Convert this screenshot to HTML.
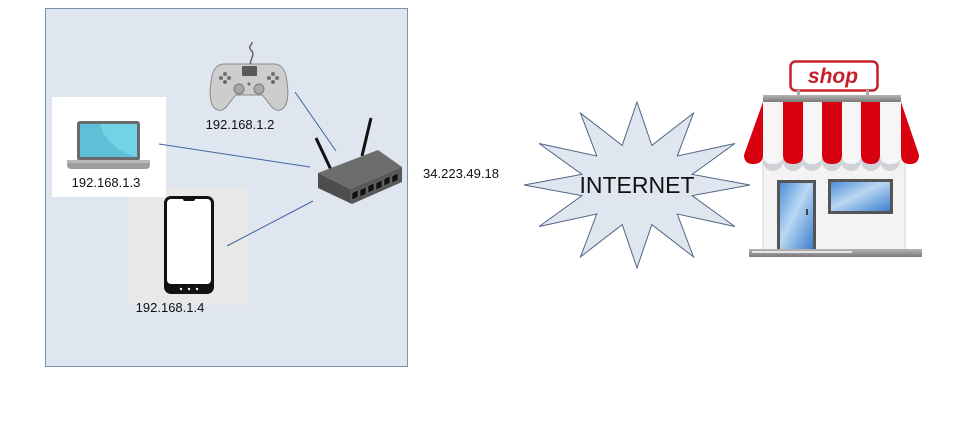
<!DOCTYPE html>
<html><head><meta charset="utf-8"><style>
html,body{margin:0;padding:0;background:#fff;}
svg{display:block;}
text{font-family:"Liberation Sans",sans-serif;}
</style></head><body>
<svg width="959" height="436" viewBox="0 0 959 436" xmlns="http://www.w3.org/2000/svg">
<defs>
<linearGradient id="glass" x1="0" y1="0" x2="1" y2="1">
<stop offset="0" stop-color="#4f8fd6"/><stop offset="0.45" stop-color="#b9d8f3"/><stop offset="1" stop-color="#3f7fcf"/>
</linearGradient>
<linearGradient id="bar" x1="0" y1="0" x2="0" y2="1">
<stop offset="0" stop-color="#b5b5b5"/><stop offset="1" stop-color="#7a7a7a"/>
</linearGradient>
</defs>
<!-- container -->
<rect x="45.5" y="8.5" width="362" height="358" fill="#dfe6f0" stroke="#7d92ad" stroke-width="1"/>
<!-- laptop box -->
<rect x="52" y="97" width="114" height="100" fill="#ffffff"/>
<!-- phone box -->
<rect x="129" y="187" width="119" height="118" fill="#e8e8e8"/>
<rect x="129" y="187" width="37" height="10" fill="#ffffff"/>
<!-- connectors -->
<g stroke="#3f66a0" stroke-width="1" fill="none">
<line x1="295" y1="92" x2="336" y2="151"/>
<line x1="159" y1="144" x2="310" y2="167"/>
<line x1="227" y1="246" x2="313" y2="201"/>
</g>
<!-- laptop -->
<rect x="77" y="121" width="63" height="40" rx="3" fill="#6b6b6b"/>
<rect x="80" y="124" width="57" height="33" fill="#72d2e6"/>
<path d="M80,124 L100,124 C104,140 118,152 137,157 L80,157 Z" fill="#5ec0d8"/>
<rect x="67" y="160" width="83" height="9" rx="4" fill="#9d9d9d"/>
<rect x="67" y="160" width="83" height="3" fill="#b8b8b8"/>
<!-- phone -->
<rect x="164" y="196" width="50" height="98" rx="7" fill="#111"/>
<rect x="167" y="199" width="44" height="85" rx="4" fill="#fff"/>
<rect x="183" y="197" width="12" height="4" rx="2" fill="#111"/>
<circle cx="181" cy="289" r="1.2" fill="#fff"/>
<circle cx="189" cy="289" r="1.2" fill="#fff"/>
<circle cx="197" cy="289" r="1.2" fill="#fff"/>
<!-- gamepad -->
<path d="M250,66 C250,58 256,55 251,50 C247,46 253,45 252,42" fill="none" stroke="#555" stroke-width="1.3"/>
<path d="M224,64 C215,64 212,72 211,82 C209,95 210,108 218,110 C226,112 230,100 236,95 L262,95 C268,100 272,112 280,110 C288,108 289,95 287,82 C286,72 283,64 274,64 Z" fill="#cdcdcd" stroke="#8a8a8a" stroke-width="1"/>
<rect x="242" y="66" width="15" height="10" rx="1" fill="#5a5a5a"/>
<g fill="#6e6e6e">
<circle cx="225" cy="74" r="2"/><circle cx="225" cy="82" r="2"/><circle cx="221" cy="78" r="2"/><circle cx="229" cy="78" r="2"/>
<circle cx="273" cy="74" r="2"/><circle cx="273" cy="82" r="2"/><circle cx="269" cy="78" r="2"/><circle cx="277" cy="78" r="2"/>
</g>
<circle cx="239" cy="89" r="5" fill="#a8a8a8" stroke="#777"/>
<circle cx="259" cy="89" r="5" fill="#a8a8a8" stroke="#777"/>
<circle cx="249" cy="84" r="1.5" fill="#666"/>
<!-- router -->
<line x1="316" y1="138" x2="333" y2="174" stroke="#111" stroke-width="3"/>
<line x1="371" y1="118" x2="362" y2="156" stroke="#111" stroke-width="3"/>
<polygon points="318,173 378,150 402,167 350,189" fill="#6d6d6d"/>
<polygon points="318,173 350,189 352,204 318,188" fill="#4d4d4d"/>
<polygon points="350,189 402,167 402,182 352,204" fill="#585858"/>
<g fill="#111" stroke="#777" stroke-width="0.5">
<polygon points="352,193 358,190 358,197 352,200"/>
<polygon points="360,190 366,187 366,194 360,197"/>
<polygon points="368,186 374,183 374,190 368,193"/>
<polygon points="376,183 382,180 382,187 376,190"/>
<polygon points="384,179 390,176 390,183 384,186"/>
<polygon points="392,176 398,173 398,180 392,183"/>
</g>
<!-- labels -->
<g font-size="13" fill="#111" text-anchor="middle">
<text x="240" y="129">192.168.1.2</text>
<text x="106" y="187">192.168.1.3</text>
<text x="170" y="312">192.168.1.4</text>
<text x="461" y="178">34.223.49.18</text>
</g>
<!-- star -->
<polygon points="637,102 651.8,145.4 693.5,113.1 677.3,156 734.9,143.5 692.1,174.4 750,185 692.1,195.6 734.9,226.5 677.3,214 693.5,256.9 651.8,224.6 637,268 622.2,224.6 580.5,256.9 596.7,214 539.1,226.5 581.9,195.6 524,185 581.9,174.4 539.1,143.5 596.7,156 580.5,113.1 622.2,145.4" fill="#dfe6f0" stroke="#4f6685" stroke-width="1"/>
<text x="637" y="193" font-size="23" fill="#111" text-anchor="middle">INTERNET</text>
<!-- shop -->
<rect x="790.5" y="61.5" width="87" height="29" rx="5" fill="#fff" stroke="#c8202a" stroke-width="2.5"/>
<text x="833" y="83" font-size="21" font-weight="bold" font-style="italic" fill="#c8202a" text-anchor="middle">shop</text>
<rect x="797" y="90" width="3" height="6" fill="#aaa"/>
<rect x="866" y="90" width="3" height="6" fill="#aaa"/>
<!-- building -->
<rect x="763" y="150" width="142" height="100" fill="#f3f3f3" stroke="#d6d6d6"/>
<!-- scallops -->
<g fill="#cfd3d8">
<circle cx="773" cy="161" r="10"/><circle cx="793" cy="161" r="10"/><circle cx="812" cy="161" r="10"/><circle cx="832" cy="161" r="10"/><circle cx="851" cy="161" r="10"/><circle cx="871" cy="161" r="10"/><circle cx="890" cy="161" r="10"/>
</g>
<!-- awning -->
<path d="M763,102 L744,155 Q744,164 753,164 Q763,164 763,155 Z" fill="#d9000f"/>
<path d="M901,102 L919,155 Q919,164 910,164 Q901,164 901,155 Z" fill="#d9000f"/>
<g>
<path d="M763,102 H783 V155 Q783,164 773,164 Q763,164 763,155 Z" fill="#f6f6f6"/>
<path d="M783,102 H803 V155 Q803,164 793,164 Q783,164 783,155 Z" fill="#d9000f"/>
<path d="M803,102 H822 V155 Q822,164 812,164 Q803,164 803,155 Z" fill="#f6f6f6"/>
<path d="M822,102 H842 V155 Q842,164 832,164 Q822,164 822,155 Z" fill="#d9000f"/>
<path d="M842,102 H861 V155 Q861,164 851,164 Q842,164 842,155 Z" fill="#f6f6f6"/>
<path d="M861,102 H880 V155 Q880,164 871,164 Q861,164 861,155 Z" fill="#d9000f"/>
<path d="M880,102 H901 V155 Q901,164 890,164 Q880,164 880,155 Z" fill="#f6f6f6"/>
</g>
<rect x="763" y="95" width="138" height="7" fill="url(#bar)"/>
<!-- door -->
<rect x="777" y="180" width="39" height="70" fill="#555"/>
<rect x="780" y="183" width="33" height="66" fill="url(#glass)"/>
<rect x="806" y="209" width="2" height="6" fill="#444"/>
<!-- window -->
<rect x="828" y="179" width="65" height="35" fill="#555"/>
<rect x="831" y="182" width="59" height="29" fill="url(#glass)"/>
<!-- base -->
<rect x="749" y="249" width="173" height="8" fill="url(#bar)"/>
<rect x="752" y="251" width="100" height="2" fill="#e5e5e5"/>
</svg>
</body></html>
